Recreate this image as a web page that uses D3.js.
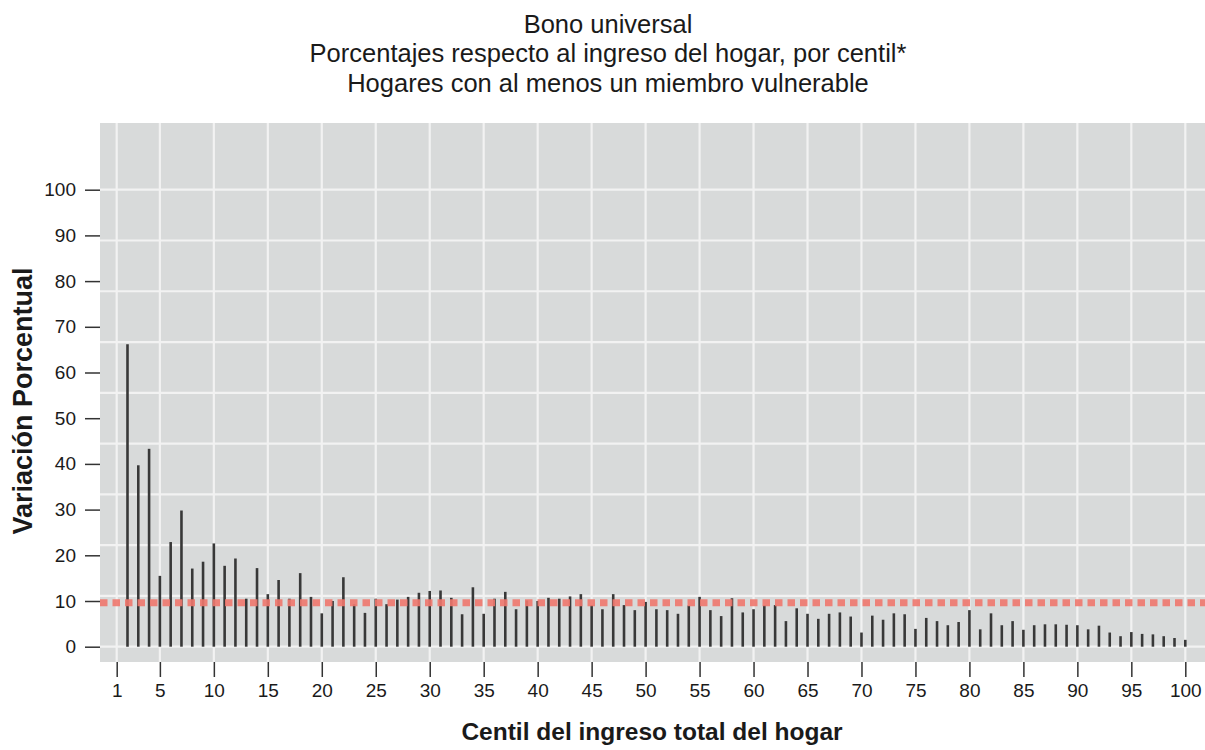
<!DOCTYPE html>
<html>
<head>
<meta charset="utf-8">
<script src="https://cdn.jsdelivr.net/npm/d3@7"></script>
<style>
  html, body { margin: 0; padding: 0; background: #ffffff; }
  svg { display: block; }
  text { font-family: "Liberation Sans", Arial, sans-serif; fill: #1a1a1a; }
</style>
</head>
<body>
<svg id="chart" width="1205" height="750"></svg>
<script>
// ---- Data ----
const titleLines = [
  "Bono universal",
  "Porcentajes respecto al ingreso del hogar, por centil*",
  "Hogares con al menos un miembro vulnerable"
];
const xTitle = "Centil del ingreso total del hogar";
const yTitle = "Variación Porcentual";
const xTickValues = [1, 5, 10, 15, 20, 25, 30, 35, 40, 45, 50, 55, 60, 65, 70, 75, 80, 85, 90, 95, 100];
const yTickValues = [0, 10, 20, 30, 40, 50, 60, 70, 80, 90, 100];
const centiles = d3.range(2, 101);
const values = [
  66.2, 39.7, 43.3, 15.5, 22.9, 29.8, 17.1, 18.6, 22.6, 17.7,
  19.3, 10.5, 17.2, 11.5, 14.6, 10.5, 16.1, 10.9, 7.3, 10.0,
  15.2, 9.3, 7.4, 10.5, 9.3, 10.3, 10.9, 11.8, 12.2, 12.3,
  10.7, 7.1, 13.0, 7.2, 10.5, 12.0, 8.2, 10.1, 10.0, 10.7,
  10.5, 11.0, 11.5, 9.1, 8.2, 11.5, 9.1, 8.0, 9.8, 8.2,
  8.0, 7.2, 9.0, 10.9, 8.0, 6.7, 10.6, 7.5, 8.2, 9.1,
  9.1, 5.6, 8.4, 7.2, 6.1, 7.2, 7.5, 6.6, 3.1, 6.8,
  5.9, 7.3, 7.1, 3.9, 6.3, 5.6, 4.7, 5.4, 8.0, 3.8,
  7.3, 4.7, 5.6, 3.7, 4.7, 4.9, 4.9, 4.8, 4.7, 3.8,
  4.6, 3.1, 2.3, 3.2, 2.8, 2.7, 2.3, 1.9, 1.5
];
const averageLine = 9.6;
const gridCount = 9;

// ---- Layout ----
const svg = d3.select("#chart");
const plot = { left: 100, right: 1205, top: 123, bottom: 662 };

const x = d3.scaleLinear().domain([1, 100]).range([116.7, 1185.3]);
const y = d3.scaleLinear().domain([0, 100]).range([646.7, 189.7]);

// panel background
svg.append("rect")
  .attr("x", plot.left).attr("y", plot.top)
  .attr("width", plot.right - plot.left).attr("height", plot.bottom - plot.top)
  .attr("fill", "#d8dada");

// horizontal grid (9 equal divisions of 0..100)
const gridVals = d3.range(gridCount + 1).map(k => 100 * k / gridCount);
svg.append("g").selectAll("line").data(gridVals).join("line")
  .attr("x1", plot.left).attr("x2", plot.right)
  .attr("y1", d => y(d)).attr("y2", d => y(d))
  .attr("stroke", "#f2f2f2").attr("stroke-width", 2.2);

// vertical grid
svg.append("g").selectAll("line").data(xTickValues).join("line")
  .attr("x1", d => x(d)).attr("x2", d => x(d))
  .attr("y1", plot.top).attr("y2", plot.bottom)
  .attr("stroke", "#f2f2f2").attr("stroke-width", 2.2);

// bars
svg.append("g").selectAll("line").data(values).join("line")
  .attr("x1", (d, i) => x(centiles[i])).attr("x2", (d, i) => x(centiles[i]))
  .attr("y1", y(0)).attr("y2", d => y(d))
  .attr("stroke", "#383838").attr("stroke-width", 2.6);

// average dashed line
svg.append("line")
  .attr("x1", plot.left).attr("x2", plot.right)
  .attr("y1", y(averageLine)).attr("y2", y(averageLine))
  .attr("stroke", "#f0786e").attr("stroke-width", 7)
  .attr("stroke-dasharray", "7.5,5").attr("opacity", 0.9);

// y axis
const yAxis = d3.axisLeft(y).tickValues(yTickValues).tickSize(15).tickPadding(9);
const gy = svg.append("g").attr("transform", `translate(${plot.left},0)`).call(yAxis);
gy.select(".domain").remove();
gy.selectAll(".tick line").attr("stroke", "#333").attr("stroke-width", 1.5);
gy.selectAll(".tick text").attr("font-size", 19).attr("fill", "#1a1a1a")
  .attr("font-family", "'Liberation Sans', Arial, sans-serif");

// x axis
const xAxis = d3.axisBottom(x).tickValues(xTickValues).tickSize(15).tickPadding(7);
const gx = svg.append("g").attr("transform", `translate(0,${plot.bottom})`).call(xAxis);
gx.select(".domain").remove();
gx.selectAll(".tick line").attr("stroke", "#333").attr("stroke-width", 1.5);
gx.selectAll(".tick text").attr("font-size", 19).attr("fill", "#1a1a1a")
  .attr("font-family", "'Liberation Sans', Arial, sans-serif");

// titles
svg.append("g").selectAll("text").data(titleLines).join("text")
  .attr("x", 608).attr("y", (d, i) => 33 + i * 29.4)
  .attr("text-anchor", "middle").attr("font-size", 25.5)
  .text(d => d);

svg.append("text")
  .attr("x", 652).attr("y", 740)
  .attr("text-anchor", "middle").attr("font-size", 24.5).attr("font-weight", "bold")
  .attr("fill", "#111")
  .text(xTitle);

svg.append("text")
  .attr("transform", "translate(32,401) rotate(-90)")
  .attr("text-anchor", "middle").attr("font-size", 27).attr("font-weight", "bold")
  .attr("fill", "#111")
  .text(yTitle);
</script>
</body>
</html>
